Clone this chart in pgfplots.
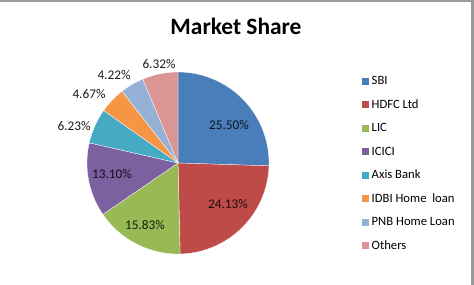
\documentclass[border=0pt]{standalone}
\usepackage{pgfplots}
\pgfplotsset{compat=1.18}
\usepackage{fontspec}
\setmainfont{Carlito}
\definecolor{cSBI}{HTML}{4A7EBB}
\definecolor{cHDFC}{HTML}{BE4B48}
\definecolor{cLIC}{HTML}{98B954}
\definecolor{cICICI}{HTML}{7D60A0}
\definecolor{cAXIS}{HTML}{46AAC5}
\definecolor{cIDBI}{HTML}{F69544}
\definecolor{cPNB}{HTML}{95B1D6}
\definecolor{cOTH}{HTML}{D99694}
\definecolor{frameg}{HTML}{9A9A9A}
\begin{document}
\begin{tikzpicture}
\begin{axis}[
  scale only axis, width=474bp, height=285bp,
  xmin=0, xmax=474, ymin=0, ymax=285, y dir=reverse,
  axis lines=none, clip=false,
  legend image code/.code={\fill[#1,draw=none] (0bp,-3.5bp) rectangle (7bp,3.5bp);},
  legend style={draw=none, fill=none, at={(axis cs:362,75.5)}, anchor=north west,
    font=\fontsize{12.7}{15}\selectfont, row sep=12bp, column sep=0pt, inner sep=0pt,
    nodes={inner sep=0pt, text height=9bp, text depth=2.5bp}},
  legend cell align=left,
]
% slices, clockwise from 12 o'clock; shares (%) SBI 25.50, HDFC 24.13, LIC 15.83, ICICI 13.10, Axis 6.23, IDBI 4.67, PNB 4.22, Others 6.32
\addplot[fill=cSBI, draw=white, line width=0.3pt, domain={90-3.6*25.50}:{90-3.6*0}, samples=60, variable=\t]
  ({178+91*cos(t)},{163-91*sin(t)}) -- (axis cs:178,163) -- cycle;
\addlegendentry{\hspace{2.5bp}SBI}
\addplot[fill=cHDFC, draw=white, line width=0.3pt, domain={90-3.6*49.63}:{90-3.6*25.50}, samples=60, variable=\t]
  ({178+91*cos(t)},{163-91*sin(t)}) -- (axis cs:178,163) -- cycle;
\addlegendentry{\hspace{2.5bp}HDFC Ltd}
\addplot[fill=cLIC, draw=white, line width=0.3pt, domain={90-3.6*65.46}:{90-3.6*49.63}, samples=40, variable=\t]
  ({178+91*cos(t)},{163-91*sin(t)}) -- (axis cs:178,163) -- cycle;
\addlegendentry{\hspace{2.5bp}LIC}
\addplot[fill=cICICI, draw=white, line width=0.3pt, domain={90-3.6*78.56}:{90-3.6*65.46}, samples=40, variable=\t]
  ({178+91*cos(t)},{163-91*sin(t)}) -- (axis cs:178,163) -- cycle;
\addlegendentry{\hspace{2.5bp}ICICI}
\addplot[fill=cAXIS, draw=white, line width=0.3pt, domain={90-3.6*84.79}:{90-3.6*78.56}, samples=20, variable=\t]
  ({178+91*cos(t)},{163-91*sin(t)}) -- (axis cs:178,163) -- cycle;
\addlegendentry{\hspace{2.5bp}Axis Bank}
\addplot[fill=cIDBI, draw=white, line width=0.3pt, domain={90-3.6*89.46}:{90-3.6*84.79}, samples=20, variable=\t]
  ({178+91*cos(t)},{163-91*sin(t)}) -- (axis cs:178,163) -- cycle;
\addlegendentry{\hspace{2.5bp}IDBI Home\ \ loan}
\addplot[fill=cPNB, draw=white, line width=0.3pt, domain={90-3.6*93.68}:{90-3.6*89.46}, samples=20, variable=\t]
  ({178+91*cos(t)},{163-91*sin(t)}) -- (axis cs:178,163) -- cycle;
\addlegendentry{\hspace{2.5bp}PNB Home Loan}
\addplot[fill=cOTH, draw=white, line width=0.3pt, domain={90-3.6*100}:{90-3.6*93.68}, samples=20, variable=\t]
  ({178+91*cos(t)},{163-91*sin(t)}) -- (axis cs:178,163) -- cycle;
\addlegendentry{\hspace{2.5bp}Others}

% data labels
\begin{scope}[every node/.style={font=\fontsize{13.3}{15}\selectfont, inner sep=0pt}]
\node[text=black!85!cSBI] at (axis cs:229,125) {25.50\%};
\node[text=black!85!cHDFC] at (axis cs:228,204) {24.13\%};
\node[text=black!85!cLIC] at (axis cs:145,225) {15.83\%};
\node[text=black!85!cICICI] at (axis cs:112,174) {13.10\%};
\node[text=black!90] at (axis cs:74,126) {6.23\%};
\node[text=black!90] at (axis cs:89,94) {4.67\%};
\node[text=black!90] at (axis cs:114,75) {4.22\%};
\node[text=black!90] at (axis cs:159,64) {6.32\%};
\end{scope}

% title
\node[font=\fontsize{23.5}{27}\selectfont\bfseries] at (axis cs:236,26) {Market Share};

% frame remnants
\fill[frameg] (axis cs:0,0) rectangle (axis cs:474,2);
\fill[frameg] (axis cs:471,0) rectangle (axis cs:474,285);
\end{axis}
\end{tikzpicture}
\end{document}
